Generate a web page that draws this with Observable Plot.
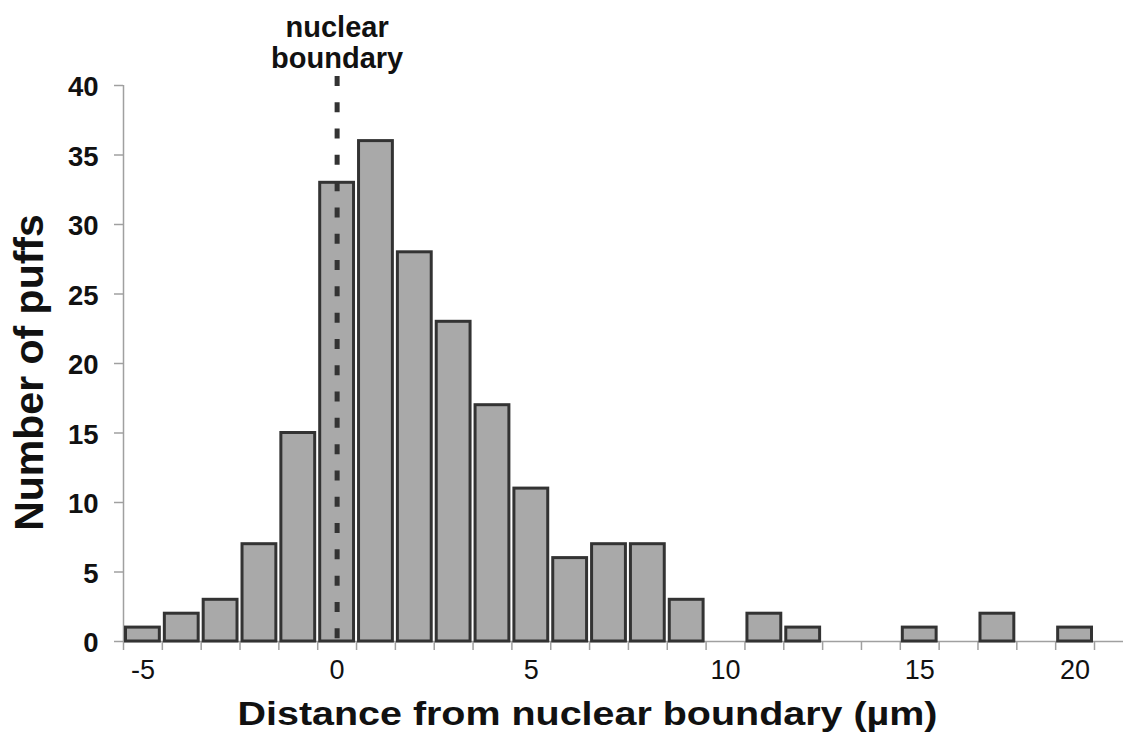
<!DOCTYPE html>
<html><head><meta charset="utf-8">
<script src="https://cdn.jsdelivr.net/npm/d3@7"></script>
<script src="https://cdn.jsdelivr.net/npm/@observablehq/plot@0.6"></script>
<style>
html,body{margin:0;padding:0;background:#fff;}
#chart svg{display:block;}
</style>
</head><body><div id="chart"></div>
<script>
// Histogram bins (µm from nuclear boundary) and counts of puffs
const bins = [-5,-4,-3,-2,-1,0,1,2,3,4,5,6,7,8,9,10,11,12,13,14,15,16,17,18,20];
const counts = [1,2,3,7,15,33,36,28,23,17,11,6,7,7,3,0,2,1,0,0,1,0,2,0,1];
const xTickLabels = [-5,0,5,10,15,20];
const yTicks = [0,5,10,15,20,25,30,35,40];
const boundaryBin = 0;
const boundaryTop = 40.65;
const annotation = "nuclear\nboundary";
const xTitle = "Distance from nuclear boundary (µm)";
const yTitle = "Number of puffs";

const data = bins.map((b, i) => ({i, bin: b, count: counts[i]}));
const x0 = -0.5;
const boundaries = d3.range(bins.length + 2).map(k => k + x0);
const gray = "#a0a0a0";
const font = "Liberation Sans, Arial, Helvetica, sans-serif";

const chart = Plot.plot({
  width: 1123,
  height: 732,
  marginTop: 85,
  marginBottom: 91,
  marginLeft: 123,
  marginRight: 29,
  x: {type: "linear", domain: [x0, bins.length + x0]},
  y: {domain: [0, 40]},
  style: {fontFamily: font, background: "#fff", color: "#000", overflow: "hidden"},
  marks: [
    Plot.ruleY([0], {x1: x0, x2: bins.length + 1 + x0, stroke: gray, strokeWidth: 1.5}),
    Plot.ruleX([x0], {y1: 0, y2: d3.max(yTicks), stroke: gray, strokeWidth: 1.5}),
    Plot.axisX(boundaries, {tickSize: 9, fill: "none", stroke: gray, strokeWidth: 1.5, label: null}),
    Plot.axisX(xTickLabels.map(v => bins.indexOf(v)), {
      tickSize: 0, tickPadding: 18, tickFormat: i => String(bins[i]),
      fontSize: 27, fill: "#111", label: null
    }),
    Plot.axisY(yTicks, {tickSize: 9, fill: "none", stroke: gray, strokeWidth: 1.5, label: null}),
    Plot.axisY(yTicks, {tickSize: 0, tickPadding: 25, dy: 2, fontSize: 27.5, fontWeight: "bold", fill: "#111", label: null}),
    Plot.rectY(data.filter(d => d.count > 0), {
      x1: d => d.i - 0.5, x2: d => d.i + 0.5, y: "count",
      fill: "#a9a9a9", stroke: "#333", strokeWidth: 3, insetLeft: 2.5, insetRight: 2.5
    }),
    Plot.ruleX([bins.indexOf(boundaryBin)], {
      y1: boundaryTop, y2: 0, stroke: "#333", strokeWidth: 5, strokeDasharray: "10,16.3"
    }),
    Plot.text([annotation], {
      x: bins.indexOf(boundaryBin), frameAnchor: "top", lineAnchor: "bottom", dy: -18,
      fontSize: 29, fontWeight: "bold", lineHeight: 1.04, fill: "#111"
    }),
    Plot.text([yTitle], {
      frameAnchor: "left", textAnchor: "middle", rotate: -90, dx: -94, dy: 9, lineAnchor: "middle",
      fontSize: 41, fontWeight: "bold", fill: "#111"
    }),
    Plot.text([xTitle], {
      frameAnchor: "bottom", dx: -21.5, dy: 73, lineAnchor: "middle",
      fontSize: 33, fontWeight: "bold", fill: "#111"
    })
  ]
});

chart.querySelectorAll("text").forEach(t => {
  if (t.textContent === xTitle) {
    t.setAttribute("textLength", 700);
    t.setAttribute("lengthAdjust", "spacingAndGlyphs");
  }
});

document.getElementById("chart").appendChild(chart);
</script>
</body></html>
